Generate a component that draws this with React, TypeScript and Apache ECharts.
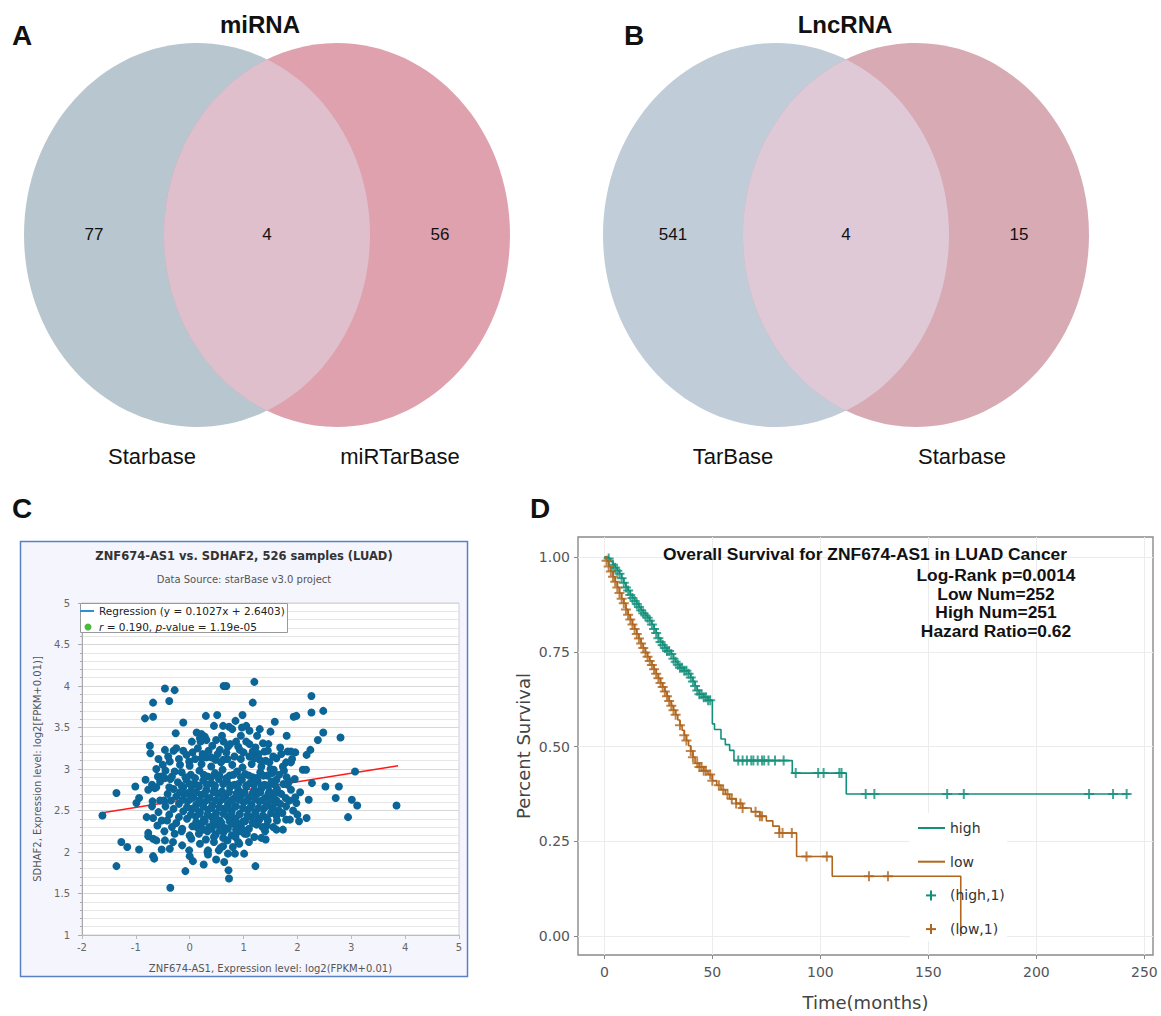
import React, { useEffect, useRef } from 'react';
import * as echarts from 'echarts';

// ---------------- DATA ----------------
const vennATitle = 'miRNA';
const vennASets = ['Starbase', 'miRTarBase'];
const vennACounts = [77, 4, 56];
const vennBTitle = 'LncRNA';
const vennBSets = ['TarBase', 'Starbase'];
const vennBCounts = [541, 4, 15];

const scatterTitle = 'ZNF674-AS1 vs. SDHAF2, 526 samples (LUAD)';
const scatterSubtitle = 'Data Source: starBase v3.0 project';
const scatterXName = 'ZNF674-AS1, Expression level: log2(FPKM+0.01)';
const scatterYName = 'SDHAF2, Expression level: log2[FPKM+0.01)]';
const regressionText = 'Regression (y = 0.1027x + 2.6403)';
const regressionLine: [number, number][] = [[-1.62, 2.474], [3.87, 3.038]];

const scatterPoints: [number, number][] = [
  [1.20,4.05],[-0.46,3.97],[-0.28,3.95],[0.63,4.00],[0.68,4.00],[2.26,3.88],[-0.68,3.80],[-0.38,3.82],[1.17,3.80],
  [-0.83,3.61],[-0.68,3.63],[0.30,3.64],[0.51,3.65],[0.98,3.65],[1.93,3.63],[1.98,3.64],[2.26,3.68],[2.48,3.70],
  [-0.12,3.56],[1.58,3.57],[0.45,3.52],[0.62,3.52],[0.73,3.51],[0.85,3.58],[0.97,3.50],[1.05,3.52],[1.11,3.46],
  [0.79,3.48],[-0.26,3.43],[0.13,3.44],[0.22,3.42],[0.28,3.39],[0.31,3.35],[2.48,3.44],[2.80,3.38],[2.38,3.35],
  [1.80,3.40],[0.04,3.33],[0.19,3.37],[0.49,3.35],[0.63,3.33],[0.86,3.33],[1.05,3.33],[1.11,3.30],[1.36,3.31],
  [1.46,3.30],[-0.74,3.28],[1.68,3.26],[2.24,3.23],[-0.46,3.23],[-0.30,3.22],[-0.12,3.22],[-0.06,3.17],[0.24,3.18],
  [0.56,3.23],[0.71,3.27],[0.93,3.23],[1.17,3.21],[1.39,3.21],[1.82,3.21],[1.88,3.21],[1.96,3.20],[2.17,3.17],
  [-0.73,3.19],[-0.58,3.12],[-0.40,3.15],[-0.37,3.09],[-0.01,3.09],[0.22,3.13],[0.31,3.14],[0.48,3.11],[0.62,3.11],
  [0.83,3.15],[1.11,3.15],[1.30,3.11],[1.41,3.10],[1.61,3.13],[1.79,3.08],[1.88,3.08],[1.73,3.03],[2.10,2.99],
  [2.16,2.99],[1.56,2.99],[3.07,2.97],[-0.59,2.91],[-0.53,2.91],[-0.46,2.89],[-0.33,2.91],[-0.82,2.87],[-0.77,2.75],
  [-0.70,2.81],[-0.65,2.77],[-1.01,2.79],[-1.36,2.71],[-0.94,2.65],[-0.99,2.59],[-1.62,2.44],[-0.69,2.61],[-0.68,2.41],
  [-0.80,2.42],[-0.77,2.23],[-0.77,2.19],[-0.68,2.16],[-0.62,2.14],[-0.46,2.14],[-0.31,2.12],[-1.27,2.12],[-1.16,2.06],
  [-0.94,2.03],[-0.68,1.95],[-0.66,1.92],[-0.52,2.03],[-0.37,2.04],[-1.36,1.83],[-0.36,1.57],[-0.08,1.77],[0.06,1.89],
  [0.26,1.85],[0.33,2.00],[0.49,1.91],[0.64,1.88],[0.72,1.78],[0.73,1.68],[1.22,1.83],[1.01,1.98],[0.84,1.98],
  [0.71,1.98],[0.80,2.06],[0.62,2.07],[0.54,2.02],[-0.01,2.02],[0.00,1.95],[-0.14,2.08],[0.19,2.10],[1.41,2.15],
  [1.33,2.17],[1.61,2.27],[1.73,2.27],[1.43,2.32],[1.27,2.37],[1.79,2.39],[1.86,2.39],[2.03,2.37],[2.17,2.41],
  [1.79,2.55],[1.98,2.59],[1.96,2.66],[2.21,2.63],[2.27,2.83],[2.52,2.79],[2.77,2.79],[2.71,2.65],[3.01,2.63],
  [3.11,2.56],[2.94,2.42],[3.84,2.56],[1.61,2.44],[1.61,2.62],[1.54,2.53],[1.82,2.81],[1.84,2.85],[1.61,2.87],
  [1.53,2.95],[-0.14,2.28],[0.03,2.16],[0.34,2.02],[0.34,1.97],[0.57,2.05],[0.45,2.18],[0.92,2.10],[1.02,2.22],
  [1.27,2.39],[0.13,2.30],
  [-0.15,2.96],[0.02,2.93],[0.18,2.98],[0.33,2.91],[0.47,2.95],[0.61,2.99],[0.74,2.92],[0.88,2.97],[1.03,2.94],
  [1.17,2.90],[1.31,2.96],[1.44,2.92],[-0.22,2.84],[-0.06,2.87],[0.09,2.82],[0.25,2.86],[0.40,2.83],[0.54,2.88],
  [0.69,2.85],[0.83,2.81],[0.97,2.87],[1.12,2.83],[1.26,2.86],[1.39,2.81],[1.52,2.85],[-0.30,2.76],[-0.12,2.78],
  [0.03,2.74],[0.17,2.79],[0.31,2.75],[0.46,2.77],[0.60,2.73],[0.75,2.78],[0.90,2.75],[1.05,2.79],[1.20,2.74],
  [1.34,2.77],[1.48,2.73],[1.62,2.76],[-0.25,2.67],[-0.09,2.70],[0.07,2.66],[0.22,2.69],[0.37,2.65],[0.52,2.70],
  [0.66,2.67],[0.81,2.64],[0.96,2.69],[1.10,2.66],[1.25,2.70],[1.40,2.65],[1.55,2.68],[-0.20,2.58],[-0.04,2.61],
  [0.12,2.57],[0.27,2.60],[0.42,2.56],[0.56,2.61],[0.71,2.58],[0.86,2.55],[1.00,2.60],[1.15,2.57],[1.29,2.61],
  [1.44,2.56],[1.58,2.59],[-0.12,2.49],[0.04,2.52],[0.19,2.48],[0.34,2.51],[0.49,2.47],[0.63,2.52],[0.78,2.49],
  [0.93,2.46],[1.08,2.51],[1.22,2.48],[1.37,2.52],[1.51,2.47],[-0.05,2.40],[0.11,2.43],[0.26,2.39],[0.41,2.42],
  [0.56,2.38],[0.70,2.43],[0.85,2.40],[1.00,2.37],[1.14,2.42],[1.29,2.39],[1.43,2.41],[0.05,2.31],[0.21,2.34],
  [0.36,2.30],[0.51,2.33],[0.66,2.29],[0.80,2.34],[0.95,2.31],[1.10,2.28],[1.24,2.33],[0.17,2.22],[0.33,2.25],
  [0.48,2.21],[0.63,2.24],[0.78,2.20],[0.92,2.25],[1.06,2.22],
  [-0.45,2.55],[-0.38,2.45],[-0.52,2.38],[-0.41,2.70],[-0.55,2.62],[-0.33,2.30],[-0.47,2.25],[-0.58,2.48],[-0.36,2.88],
  [-0.62,2.78],[-0.28,2.97],[-0.18,3.05],[0.00,3.04],[0.22,3.06],[0.40,3.03],[0.58,3.08],[0.79,3.05],[0.98,3.02],
  [1.15,3.06],[1.33,3.03],[1.50,3.00],[1.66,2.93],[1.74,2.82],[1.70,2.70],[1.68,2.58],[1.72,2.47],[1.62,2.38],
  [1.55,2.30],[1.40,2.25],[1.20,2.18],[-0.15,2.25],[0.00,2.20],[0.45,2.12],[0.70,2.14],[0.90,2.12],[-0.25,2.35],
  [1.85,2.62],[1.88,2.75],[1.92,2.50],[1.80,2.90],[-0.70,2.55],[-0.60,2.32],[-0.55,2.85],
  [-0.08,2.90],[0.10,2.89],[0.26,2.93],[0.40,2.90],[0.55,2.92],[0.68,2.89],[0.81,2.93],[0.95,2.90],[1.10,2.92],
  [1.24,2.89],[1.37,2.92],[-0.15,2.80],[0.00,2.82],[0.16,2.80],[0.32,2.81],[0.47,2.80],[0.62,2.82],[0.76,2.80],
  [0.90,2.82],[1.05,2.80],[1.19,2.81],[1.33,2.80],[1.46,2.80],[1.58,2.81],[-0.18,2.72],[-0.03,2.71],[0.12,2.72],
  [0.28,2.71],[0.44,2.72],[0.58,2.71],[0.73,2.72],[0.87,2.70],[1.02,2.72],[1.17,2.71],[1.31,2.72],[1.46,2.70],
  [1.60,2.71],[-0.13,2.63],[0.02,2.64],[0.18,2.62],[0.33,2.63],[0.48,2.62],[0.62,2.64],[0.77,2.62],[0.92,2.63],
  [1.06,2.62],[1.21,2.64],[1.35,2.62],[1.50,2.63],[-0.05,2.54],[0.10,2.53],[0.25,2.55],[0.40,2.53],[0.55,2.54],
  [0.70,2.53],[0.84,2.55],[0.99,2.53],[1.13,2.54],[1.28,2.53],[1.42,2.55],[0.02,2.45],[0.18,2.46],[0.33,2.45],
  [0.48,2.44],[0.63,2.46],[0.77,2.44],[0.92,2.45],[1.07,2.44],[1.22,2.46],[1.36,2.44],[0.12,2.36],[0.28,2.37],
  [0.44,2.36],[0.59,2.35],[0.74,2.37],[0.88,2.35],[1.03,2.37],[1.17,2.35],[0.25,2.27],[0.41,2.28],[0.56,2.26],
  [0.71,2.28],[0.86,2.27],[1.00,2.26],
  [0.05,3.20],[0.15,3.25],[0.35,3.22],[0.42,3.28],[0.52,3.18],[0.68,3.20],[0.75,3.30],[0.90,3.27],[1.00,3.20],
  [1.22,3.26],[1.28,3.18],[1.45,3.22],[1.55,3.15],[1.70,3.18],[0.10,3.12],[0.40,3.14],[0.70,3.12],[0.95,3.12],
  [1.20,3.13],[1.48,3.08],[-0.20,3.12],[-0.25,3.25],[-0.50,3.05],[-0.45,2.98],[-0.62,3.00],[-0.38,2.78],[-0.48,2.62],
  [-0.30,2.52],[-0.42,2.38],[-0.28,2.22],[-0.20,2.42],[-0.35,2.62],[1.65,2.50],[1.78,2.65],[1.75,2.98],[1.95,2.88],
  [2.05,2.72],[1.90,3.12],[2.00,2.45],[1.45,2.38],[1.35,2.30],[0.30,2.15],[0.62,2.17],[0.85,2.18],[1.10,2.12],
  [0.20,3.33],[0.60,3.40],[0.95,3.40],[1.25,3.40],[1.50,3.45],[1.30,3.48]
];

const kmTitle = 'Overall Survival for ZNF674-AS1 in LUAD Cancer';
const kmAnnotations = ['Log-Rank p=0.0014', 'Low Num=252', 'High Num=251', 'Hazard Ratio=0.62'];
const kmLegendLabels = ['high', 'low', '(high,1)', '(low,1)'];
const kmXTicks = [0, 50, 100, 150, 200, 250];
const kmYTicks = [0, 0.25, 0.5, 0.75, 1];

const kmHigh: [number, number][] = [
  [0,1],[2,0.996],[3,0.988],[4,0.98],[5,0.972],[6,0.964],[7,0.956],[8,0.944],[9,0.932],[10,0.92],[11,0.912],
  [12,0.90],[13,0.892],[14,0.884],[15,0.876],[16,0.868],[17,0.86],[18,0.852],[19,0.846],[20,0.84],[21,0.832],
  [22,0.822],[23,0.81],[24,0.80],[25,0.786],[26,0.776],[27,0.768],[28,0.76],[29,0.752],[31,0.744],[32,0.732],
  [33,0.724],[34,0.716],[35,0.708],[37,0.70],[39,0.692],[40,0.682],[41,0.672],[42,0.66],[43,0.648],[44,0.638],
  [46,0.63],[48,0.622],[50,0.56],[51,0.545],[54,0.52],[56,0.505],[58,0.49],[60,0.463],[87,0.43],[112,0.375],[243,0.375]
];
const kmLow: [number, number][] = [
  [0,1],[1,0.99],[2,0.975],[3,0.962],[4,0.948],[5,0.935],[6,0.92],[7,0.905],[8,0.89],[9,0.878],[10,0.862],
  [11,0.848],[12,0.835],[13,0.822],[14,0.81],[15,0.797],[16,0.785],[17,0.772],[18,0.76],[19,0.748],[20,0.737],
  [21,0.726],[22,0.715],[23,0.704],[24,0.692],[25,0.68],[26,0.668],[27,0.657],[28,0.645],[29,0.633],[30,0.62],
  [31,0.608],[32,0.596],[33,0.584],[34,0.57],[35,0.556],[36,0.543],[37,0.53],[38,0.516],[39,0.502],[40,0.488],
  [41,0.472],[42,0.456],[44,0.446],[46,0.436],[48,0.426],[50,0.41],[52,0.398],[54,0.386],[56,0.374],[58,0.362],
  [61,0.35],[64,0.338],[68,0.328],[72,0.316],[75,0.304],[78,0.29],[81,0.272],[89,0.21],[105.5,0.158],[165,0]
];
const censorHigh = [2,4,5,6,7,8,9,10,11,12,13,14,15,16,17,18,19,20,21,22,23,24,25,26,27,28,29,30,31,32,33,34,35,36,
  37,38,39,40,41,42,43,44,45,46,47,48,49,62,64,66,68,69,71,73,74,76,79,83,88.6,99,101.5,108.8,109.8,121,125,158.7,
  166.4,224.4,235.5,241.8];
const censorLow = [1,2,3,4,5,6,7,8,9,10,11,12,13,14,15,16,17,18,19,20,21,22,23,24,25,26,27,28,29,30,31,32,33,35,37,
  38,40,41,43,44,45,46,47,49,50,53,55,57,59,61,63,64,70,72,73,81,82.5,86.8,93.6,103,122.5,131.3];

// ---------------- STYLE ----------------
const ARIAL = "'Liberation Sans', Arial, Helvetica, sans-serif";
const DV = "'DejaVu Sans', Verdana, sans-serif";
const TEAL = '#14907a';
const BROWN = '#b0661e';
const CROSS = 'path://M4,0H6V4H10V6H6V10H4V6H0V4H4Z';

function survAt(steps: [number, number][], t: number) {
  let s = steps[0][1];
  for (const [tt, v] of steps) { if (tt <= t) s = v; else break; }
  return s;
}

function lensPoints(cxL: number, cxR: number, cy: number, rx: number, ry: number) {
  const d = (cxR - cxL) / 2;
  const t0 = Math.acos(d / rx);
  const pts: number[][] = [];
  const N = 80;
  for (let i = 0; i <= N; i++) {
    const t = -t0 + (2 * t0 * i) / N;
    pts.push([cxL + rx * Math.cos(t), cy + ry * Math.sin(t)]);
  }
  for (let i = 0; i <= N; i++) {
    const t = Math.PI - t0 + (2 * t0 * i) / N;
    pts.push([cxR + rx * Math.cos(t), cy + ry * Math.sin(t)]);
  }
  return pts;
}

function venn(ox: number, title: string, sets: string[], counts: number[], letter: string,
  colors: string[], setX: number[], titleX: number, letterX: number) {
  const cy = 235, rx = 173, ry = 192, cxL = 197 + ox, cxR = 337 + ox;
  const countX = [94 + ox, 267 + ox, 440 + ox];
  const els: any[] = [
    { type: 'ellipse', shape: { cx: cxL, cy, rx, ry }, style: { fill: colors[0] } },
    { type: 'ellipse', shape: { cx: cxR, cy, rx, ry }, style: { fill: colors[1] } },
    { type: 'polygon', shape: { points: lensPoints(cxL, cxR, cy, rx, ry) }, style: { fill: colors[2] } },
  ];
  counts.forEach((c, i) => els.push({ type: 'text', x: countX[i], y: 234,
    style: { text: String(c), fill: '#111', fontSize: 17, fontFamily: ARIAL, textAlign: 'center', textVerticalAlign: 'middle' } }));
  sets.forEach((s, i) => els.push({ type: 'text', x: setX[i], y: 456,
    style: { text: s, fill: '#111', fontSize: 22, fontFamily: ARIAL, textAlign: 'center', textVerticalAlign: 'middle' } }));
  els.push({ type: 'text', x: titleX, y: 24,
    style: { text: title, fill: '#111', fontSize: 24, fontWeight: 'bold', fontFamily: ARIAL, textAlign: 'center', textVerticalAlign: 'middle' } });
  els.push({ type: 'text', x: letterX, y: 35,
    style: { text: letter, fill: '#111', fontSize: 28, fontWeight: 'bold', fontFamily: ARIAL, textAlign: 'left', textVerticalAlign: 'middle' } });
  return els;
}

export default function App() {
  const ref = useRef<HTMLDivElement>(null);
  useEffect(() => {
    if (!ref.current) return;
    const chart = echarts.init(ref.current, null, { renderer: 'svg' });

    const graphics: any[] = [];
    graphics.push({ type: 'rect', z: -10, shape: { x: 20.5, y: 541.5, width: 447, height: 435 },
      style: { fill: '#f5f5fd', stroke: '#5a7fc4', lineWidth: 1.5 } });
    graphics.push(...venn(0, vennATitle, vennASets, vennACounts, 'A', ['#b8c6cf', '#dfa1ae', '#dfbfcc'], [152, 400], 260, 12));
    graphics.push(...venn(579, vennBTitle, vennBSets, vennBCounts, 'B', ['#c0ccd8', '#d7aab4', '#e0c9d6'], [733, 962], 845, 624));
    graphics.push({ type: 'text', x: 12, y: 508, style: { text: 'C', fill: '#111', fontSize: 28, fontWeight: 'bold', fontFamily: ARIAL, textVerticalAlign: 'middle' } });
    graphics.push({ type: 'text', x: 530, y: 508, style: { text: 'D', fill: '#111', fontSize: 28, fontWeight: 'bold', fontFamily: ARIAL, textVerticalAlign: 'middle' } });

    graphics.push({ type: 'text', x: 244, y: 556, style: { text: scatterTitle, fill: '#333', fontSize: 11.5, fontWeight: 'bold', fontFamily: DV, textAlign: 'center', textVerticalAlign: 'middle' } });
    graphics.push({ type: 'text', x: 244, y: 579, style: { text: scatterSubtitle, fill: '#555', fontSize: 10, fontFamily: DV, textAlign: 'center', textVerticalAlign: 'middle' } });
    graphics.push({ type: 'rect', z: 20, shape: { x: 80.5, y: 603.5, width: 207, height: 29 }, style: { fill: '#fff', stroke: '#999', lineWidth: 1 } });
    graphics.push({ type: 'line', z: 21, shape: { x1: 80, y1: 611, x2: 94, y2: 611 }, style: { stroke: '#2d8fd5', lineWidth: 2 } });
    graphics.push({ type: 'circle', z: 21, shape: { cx: 88, cy: 627, r: 3.5 }, style: { fill: '#4cba3a' } });
    graphics.push({ type: 'text', z: 21, x: 99, y: 611, style: { text: regressionText, fill: '#222', fontSize: 10.5, fontFamily: DV, textVerticalAlign: 'middle' } });
    graphics.push({ type: 'text', z: 21, x: 99, y: 627, style: { text: '{i|r} = 0.190, {i|p}-value = 1.19e-05', fill: '#222', fontSize: 10.5, fontFamily: DV, textVerticalAlign: 'middle',
      rich: { i: { fontStyle: 'italic', fontSize: 10.5, fontFamily: DV, fill: '#222' } } } });

    graphics.push({ type: 'text', z: 20, x: 865, y: 554, style: { text: kmTitle, fill: '#111', fontSize: 17.4, fontWeight: 'bold', fontFamily: ARIAL, textAlign: 'center', textVerticalAlign: 'middle' } });
    const annY = [575, 593.5, 612, 630.5];
    kmAnnotations.forEach((t, i) => graphics.push({ type: 'text', z: 20, x: 996, y: annY[i],
      style: { text: t, fill: '#111', fontSize: 17.4, fontWeight: 'bold', fontFamily: ARIAL, textAlign: 'center', textVerticalAlign: 'middle' } }));
    graphics.push({ type: 'rect', z: 1, shape: { x: 910, y: 813, width: 97, height: 128 }, style: { fill: '#fff' } });
    const legColors = [TEAL, BROWN, TEAL, BROWN];
    kmLegendLabels.forEach((lab, i) => {
      const y = 828 + i * 33.7;
      if (i < 2) {
        graphics.push({ type: 'line', z: 6, shape: { x1: 918, y1: y, x2: 945, y2: y }, style: { stroke: legColors[i], lineWidth: 2 } });
      } else {
        graphics.push({ type: 'rect', z: 6, shape: { x: 926, y: y - 1, width: 10, height: 2 }, style: { fill: legColors[i] } });
        graphics.push({ type: 'rect', z: 6, shape: { x: 930, y: y - 5, width: 2, height: 10 }, style: { fill: legColors[i] } });
      }
      graphics.push({ type: 'text', z: 6, x: 950, y, style: { text: lab, fill: '#333', fontSize: 14, fontFamily: DV, textVerticalAlign: 'middle' } });
    });

    const option: any = {
      animation: false,
      backgroundColor: '#ffffff',
      grid: [
        { left: 82, top: 603, width: 377, height: 332, show: true, backgroundColor: '#fff', borderColor: '#d0d0d0', borderWidth: 1, containLabel: false, outerBoundsMode: 'none' },
        { left: 578, top: 537, width: 575, height: 418, show: true, backgroundColor: '#fff', borderColor: '#8a8a8a', borderWidth: 1.4, containLabel: false, outerBoundsMode: 'none' },
      ],
      xAxis: [
        { gridIndex: 0, type: 'value', min: -2, max: 5, interval: 1,
          axisLine: { show: true, onZero: false, lineStyle: { color: '#bbb' } },
          axisTick: { show: true, length: 4, lineStyle: { color: '#bbb' } },
          axisLabel: { color: '#666', fontSize: 10, fontFamily: DV, margin: 7 },
          splitLine: { show: false },
          name: scatterXName, nameLocation: 'middle', nameGap: 28,
          nameTextStyle: { color: '#555', fontSize: 10, fontFamily: DV } },
        { gridIndex: 1, type: 'value', min: -12.2, max: 254,
          axisLine: { show: false, onZero: false },
          axisTick: { show: true, length: 4, customValues: kmXTicks, lineStyle: { color: '#888' } },
          axisLabel: { color: '#555', fontSize: 14, fontFamily: DV, margin: 10, customValues: kmXTicks },
          splitLine: { show: true, lineStyle: { color: '#ececec', width: 1 } },
          name: 'Time(months)', nameLocation: 'middle', nameGap: 38,
          nameTextStyle: { color: '#444', fontSize: 18, fontFamily: DV } },
      ],
      yAxis: [
        { gridIndex: 0, type: 'value', min: 1, max: 5, interval: 0.5,
          axisLine: { show: true, onZero: false, lineStyle: { color: '#aaa' } },
          axisTick: { show: true, length: 4, lineStyle: { color: '#aaa' } },
          minorTick: { show: true, splitNumber: 5, length: 2, lineStyle: { color: '#aaa' } },
          axisLabel: { color: '#666', fontSize: 10, fontFamily: DV, margin: 12 },
          splitLine: { show: true, lineStyle: { color: '#d8d8d8' } },
          minorSplitLine: { show: true, lineStyle: { color: '#e6e6e6' } },
          name: scatterYName, nameLocation: 'middle', nameGap: 40,
          nameTextStyle: { color: '#555', fontSize: 10, fontFamily: DV } },
        { gridIndex: 1, type: 'value', min: -0.05, max: 1.053,
          axisLine: { show: false, onZero: false },
          axisTick: { show: true, length: 4, customValues: kmYTicks, lineStyle: { color: '#888' } },
          axisLabel: { color: '#555', fontSize: 14, fontFamily: DV, margin: 8, customValues: kmYTicks,
            formatter: (v: number) => v.toFixed(2) },
          splitLine: { show: true, lineStyle: { color: '#ececec', width: 1 } },
          name: 'Percent Survival', nameLocation: 'middle', nameGap: 46,
          nameTextStyle: { color: '#444', fontSize: 18, fontFamily: DV } },
      ],
      series: [
        { type: 'line', name: 'Regression', xAxisIndex: 0, yAxisIndex: 0, data: regressionLine, symbol: 'none',
          lineStyle: { color: '#ff1a1a', width: 1.5 }, z: 2, silent: true },
        { type: 'scatter', name: 'samples', xAxisIndex: 0, yAxisIndex: 0, data: scatterPoints, symbolSize: 8,
          itemStyle: { color: '#0b6597', opacity: 1 }, z: 3 },
        { type: 'line', name: 'high', xAxisIndex: 1, yAxisIndex: 1, data: kmHigh, step: 'end', symbol: 'none',
          lineStyle: { color: TEAL, width: 1.6 }, z: 3 },
        { type: 'line', name: 'low', xAxisIndex: 1, yAxisIndex: 1, data: kmLow, step: 'end', symbol: 'none',
          lineStyle: { color: BROWN, width: 1.6 }, z: 3 },
        { type: 'scatter', name: '(high,1)', xAxisIndex: 1, yAxisIndex: 1,
          data: censorHigh.map((t) => [t, survAt(kmHigh, t)]), symbol: CROSS, symbolSize: 10,
          itemStyle: { color: TEAL }, z: 4 },
        { type: 'scatter', name: '(low,1)', xAxisIndex: 1, yAxisIndex: 1,
          data: censorLow.map((t) => [t, survAt(kmLow, t)]), symbol: CROSS, symbolSize: 10,
          itemStyle: { color: BROWN }, z: 4 },
      ],
      graphic: { elements: graphics },
    };
    chart.setOption(option);
    return () => chart.dispose();
  }, []);
  return <div ref={ref} style={{ position: 'absolute', left: 0, top: 0, width: 1161, height: 1016 }} />;
}
